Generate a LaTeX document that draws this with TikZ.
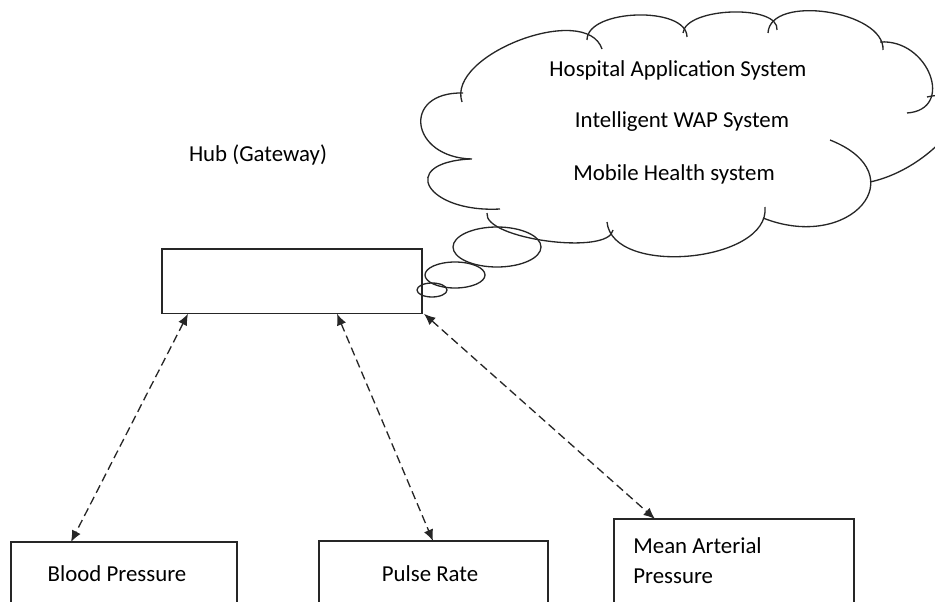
\documentclass[tikz,border=0pt]{standalone}
\usepackage{fontspec}
\setmainfont{Carlito}
\usetikzlibrary{arrows.meta,calc}
\newcommand\px{0.5669pt}
\newcommand\bump[3]{\draw[line] (#1) .. controls ($0.3333*(#1)-0.6667*(#2)+1.3333*(#3)$) and ($0.3333*(#2)-0.6667*(#1)+1.3333*(#3)$) .. (#2);}
\begin{document}
\begin{tikzpicture}[x=0.02cm,y=-0.02cm,
  line/.style={draw=black!85, line width=0.75pt},
  box/.style={line, rectangle, inner sep=0pt, outer sep=0pt, anchor=north west},
  lbl/.style={font=\fontsize{13}{17.5}\selectfont, inner sep=0pt, text=black, anchor=base},
  arr/.style={line, dash pattern=on 4.8pt off 2.6pt, {Latex[length=6.5pt,width=5.5pt]}-{Latex[length=6.5pt,width=5.5pt]}},
]
\clip (0,0) rectangle (935,601);
% cloud
\bump{462,102}{602,49}{520,40}
\bump{587,40}{687,37}{637,15}
\bump{683,33}{777,30}{732,12}
\bump{768,33}{883,50}{827,12}
\bump{880,42}{907,113}{930,75}
\bump{927,97}{870,182}{952,128}
\bump{830,140}{763,218}{862,205}
\bump{765,207}{607,222}{690,256}
\bump{613,230}{487,213}{547,241}
\bump{470,159}{500,209}{430,187}
\bump{463,93}{472,159}{421,125}
% thought bubbles
\draw[line] (497,247) ellipse [x radius=44, y radius=20];
\draw[line] (455,275) ellipse [x radius=30, y radius=13];
\draw[line] (432,290) ellipse [x radius=15, y radius=7];
% cloud texts
\node[lbl] (t1) at (678,77) {Hospital Application System};
\node[lbl] (t2) at (682,128) {Intelligent WAP System};
\node[lbl] (t3) at (674,180) {Mobile Health system};
% hub
\node[lbl] (hubtext) at (258,162) {Hub (Gateway)};
\node[box, minimum width=261*\px, minimum height=65*\px] (hub) at (162,249) {};
% sensors
\node[box, minimum width=227*\px, minimum height=80*\px] (bp) at (11,542) {};
\node[lbl] (bpt) at (117,581) {Blood Pressure};
\node[box, minimum width=230*\px, minimum height=80*\px] (pr) at (319,541) {};
\node[lbl] (prt) at (430,581) {Pulse Rate};
\node[box, minimum width=241*\px, minimum height=100*\px] (ma) at (614,519) {};
\node[lbl, anchor=base west] (mat1) at (633,553) {Mean Arterial};
\node[lbl, anchor=base west] (mat2) at (633,583) {Pressure};
% connectors
\draw[arr] ($(hub.south west)+(26,0)$) -- ($(bp.north west)+(60,0)$);
\draw[arr] ($(hub.south west)+(175,0)$) -- ($(pr.north west)+(114,0)$);
\draw[arr] ($(hub.south east)+(2,0)$) -- ($(ma.north west)+(41,0)$);
\end{tikzpicture}
\end{document}
